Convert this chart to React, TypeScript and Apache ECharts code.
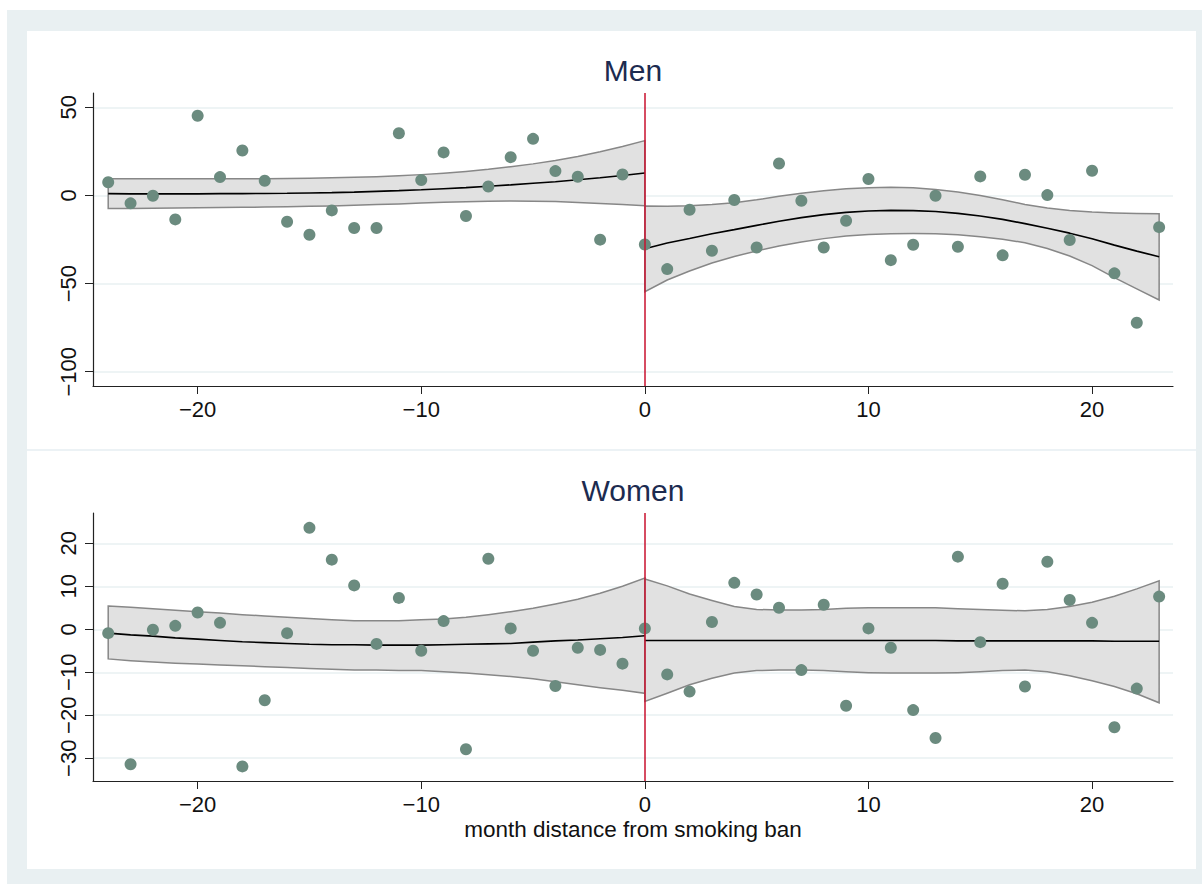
import React, { useEffect, useRef } from 'react';
import * as echarts from 'echarts';

const months = [-24, -23, -22, -21, -20, -19, -18, -17, -16, -15, -14, -13, -12, -11, -10, -9, -8, -7, -6, -5, -4, -3, -2, -1, 0, 1, 2, 3, 4, 5, 6, 7, 8, 9, 10, 11, 12, 13, 14, 15, 16, 17, 18, 19, 20, 21, 22, 23];

const menValues = [7.5, -4.5, -0.2, -13.6, 45.2, 10.4, 25.5, 8.3, -14.9, -22.3, -8.5, -18.5, -18.5, 35.3, 8.7, 24.4, -11.7, 5.1, 21.7, 32.1, 13.8, 10.6, -25.1, 11.9, -27.8, -41.8, -8.1, -31.4, -2.6, -29.5, 18.1, -3.0, -29.5, -14.4, 9.3, -36.7, -28.0, -0.2, -29.1, 10.8, -34.0, 11.7, 0.2, -25.3, 14.0, -44.2, -72.2, -18.0];

const womenValues = [-0.9, -31.4, -0.1, 0.8, 3.9, 1.5, -31.9, -16.5, -0.9, 23.6, 16.2, 10.2, -3.4, 7.3, -5.0, 1.9, -27.9, 16.4, 0.2, -5.0, -13.2, -4.3, -4.8, -8.0, 0.2, -10.5, -14.5, 1.7, 10.8, 8.1, 5.0, -9.5, 5.7, -17.8, 0.2, -4.3, -18.8, -25.3, 16.9, -3.0, 10.6, -13.3, 15.7, 6.8, 1.5, -22.8, -13.8, 7.6];

// fitted values and confidence bands, before (months -24..0) and after (0..23) the ban
const menFitBefore = [1.0, 0.9, 0.9, 0.9, 0.9, 1.0, 1.0, 1.1, 1.2, 1.4, 1.6, 1.9, 2.3, 2.7, 3.2, 3.8, 4.4, 5.2, 6.0, 6.9, 7.8, 8.9, 10.0, 11.3, 12.7];
const menHiBefore = [9.4, 9.4, 9.4, 9.4, 9.4, 9.4, 9.5, 9.5, 9.6, 9.8, 10.0, 10.3, 10.6, 11.1, 11.8, 12.6, 13.6, 14.8, 16.3, 17.9, 19.8, 22.1, 24.8, 27.8, 31.1];
const menLoBefore = [-7.4, -7.4, -7.3, -7.2, -7.0, -6.9, -6.7, -6.6, -6.4, -6.2, -6.0, -5.6, -5.2, -4.8, -4.3, -3.9, -3.6, -3.3, -3.2, -3.3, -3.5, -4.0, -4.6, -5.2, -5.8];

const menFitAfter = [-30.3, -27.0, -24.4, -21.7, -19.4, -17.0, -14.6, -12.6, -10.9, -9.6, -8.8, -8.5, -8.6, -9.1, -10.2, -11.7, -13.6, -16.0, -18.6, -21.4, -24.6, -28.2, -31.6, -34.8];
const menHiAfter = [-6.0, -6.1, -5.9, -5.2, -4.2, -2.5, -0.5, 1.2, 2.7, 3.8, 4.4, 4.6, 4.3, 3.4, 1.9, 0.0, -2.5, -5.1, -7.1, -8.5, -9.4, -9.9, -10.2, -10.4];
const menLoAfter = [-54.6, -48.0, -42.9, -38.3, -34.6, -31.5, -28.7, -26.4, -24.5, -23.0, -22.1, -21.7, -21.6, -21.7, -22.3, -23.4, -24.8, -26.9, -30.1, -34.4, -39.8, -46.6, -53.0, -59.3];

const womenFitBefore = [-0.9, -1.3, -1.6, -2.0, -2.3, -2.6, -2.9, -3.1, -3.3, -3.5, -3.6, -3.6, -3.7, -3.7, -3.7, -3.6, -3.5, -3.4, -3.3, -3.0, -2.7, -2.5, -2.2, -1.9, -1.5];
const womenHiBefore = [5.4, 5.1, 4.8, 4.4, 4.1, 3.8, 3.4, 3.1, 2.8, 2.5, 2.2, 2.0, 2.0, 2.0, 2.2, 2.4, 2.8, 3.4, 4.1, 4.9, 5.9, 7.0, 8.4, 10.0, 11.9];
const womenLoBefore = [-6.9, -7.3, -7.6, -7.9, -8.1, -8.3, -8.5, -8.7, -8.9, -9.1, -9.3, -9.5, -9.5, -9.6, -9.6, -9.9, -10.2, -10.6, -11.0, -11.5, -12.2, -12.9, -13.6, -14.2, -14.9];

const womenFitAfter = [-2.6, -2.6, -2.6, -2.6, -2.6, -2.6, -2.6, -2.6, -2.6, -2.6, -2.6, -2.6, -2.6, -2.6, -2.7, -2.7, -2.7, -2.7, -2.7, -2.7, -2.7, -2.8, -2.8, -2.8];
const womenHiAfter = [11.7, 10.1, 8.2, 6.7, 5.3, 4.6, 4.5, 4.5, 4.6, 4.9, 5.0, 5.0, 5.0, 5.0, 4.8, 4.6, 4.4, 4.3, 4.6, 5.3, 6.3, 7.7, 9.4, 11.3];
const womenLoAfter = [-16.8, -14.9, -12.9, -11.4, -10.2, -9.6, -9.5, -9.5, -9.6, -9.9, -10.1, -10.2, -10.2, -10.2, -10.1, -9.9, -9.6, -9.5, -9.9, -10.8, -12.0, -13.3, -15.0, -17.1];

const xTicks = [-20, -10, 0, 10, 20];
const menYTicks = [-100, -50, 0, 50];
const womenYTicks = [-30, -20, -10, 0, 10, 20];
const panelTitles = ['Men', 'Women'];
const xTitle = 'month distance from smoking ban';

const FONT = '"Liberation Sans", Arial, Helvetica, sans-serif';
const fmt = (v: number) => (v < 0 ? '\u2212' + Math.abs(v) : String(v));

const monthsBefore = months.filter((m) => m <= 0);
const monthsAfter = months.filter((m) => m >= 0);

function band(xs: number[], lo: number[], hi: number[], idx: number) {
  return {
    type: 'custom',
    xAxisIndex: idx,
    yAxisIndex: idx,
    z: 2,
    silent: true,
    data: [[xs[0], lo[0]]],
    renderItem: (_p: any, api: any) => {
      const pts: number[][] = [];
      for (let i = 0; i < xs.length; i++) pts.push(api.coord([xs[i], hi[i]]));
      for (let i = xs.length - 1; i >= 0; i--) pts.push(api.coord([xs[i], lo[i]]));
      return {
        type: 'polygon',
        shape: { points: pts },
        style: { fill: '#e1e1e1', stroke: '#878787', lineWidth: 1.5 },
      };
    },
  };
}

function fitLine(xs: number[], ys: number[], idx: number) {
  return {
    type: 'line',
    xAxisIndex: idx,
    yAxisIndex: idx,
    z: 3,
    silent: true,
    symbol: 'none',
    data: xs.map((x, i) => [x, ys[i]]),
    lineStyle: { color: '#000', width: 1.6 },
  };
}

function scatter(vals: number[], idx: number) {
  return {
    type: 'scatter',
    xAxisIndex: idx,
    yAxisIndex: idx,
    z: 4,
    symbolSize: 12,
    data: months.map((m, i) => [m, vals[i]]),
    itemStyle: { color: '#6b8b7f', opacity: 1 },
  };
}

function cutoff(idx: number) {
  return {
    type: 'line',
    xAxisIndex: idx,
    yAxisIndex: idx,
    z: 1,
    data: [],
    markLine: {
      silent: true,
      symbol: 'none',
      label: { show: false },
      lineStyle: { color: '#c8102e', width: 1.5, type: 'solid' },
      data: [{ xAxis: 0 }],
    },
  };
}

function xAxis(idx: number, withName: boolean) {
  return {
    type: 'value',
    gridIndex: idx,
    min: -24.68,
    max: 23.62,
    axisLine: { show: true, onZero: false, lineStyle: { color: '#222', width: 1.2 } },
    axisTick: { show: true, length: 8, customValues: xTicks, lineStyle: { color: '#222', width: 1 } },
    axisLabel: { customValues: xTicks, formatter: fmt, fontSize: 22, color: '#111', fontFamily: FONT, margin: 12 },
    splitLine: { show: false },
    name: withName ? xTitle : '',
    nameLocation: 'middle',
    nameGap: 37,
    nameTextStyle: { fontSize: 22.5, color: '#111', fontFamily: FONT },
  };
}

function yAxis(idx: number, min: number, max: number, ticks: number[]) {
  return {
    type: 'value',
    gridIndex: idx,
    min,
    max,
    axisLine: { show: true, onZero: false, lineStyle: { color: '#222', width: 1.2 } },
    axisTick: { show: true, length: 8, customValues: ticks, lineStyle: { color: '#222', width: 1 } },
    axisLabel: { customValues: ticks, formatter: fmt, fontSize: 22, color: '#111', fontFamily: FONT, rotate: 90, margin: 14 },
    splitLine: { show: true, lineStyle: { color: '#e8f0f2', width: 1.5 } },
  };
}

export default function App() {
  const ref = useRef<HTMLDivElement>(null);
  useEffect(() => {
    if (!ref.current) return;
    const chart = echarts.init(ref.current, undefined, { renderer: 'svg' });
    chart.setOption({
      animation: false,
      backgroundColor: '#ffffff',
      graphic: [
        { type: 'rect', z: -100, silent: true, shape: { x: 7, y: 10, width: 1195, height: 874 }, style: { fill: '#e9f0f2' } },
        { type: 'rect', z: -99, silent: true, shape: { x: 27, y: 31, width: 1169, height: 838 }, style: { fill: '#ffffff' } },
        { type: 'line', z: -98, silent: true, shape: { x1: 27, y1: 450, x2: 1196, y2: 450 }, style: { stroke: '#e6eef2', lineWidth: 1.5 } },
        { type: 'text', x: 633, y: 70, silent: true, style: { text: panelTitles[0], textAlign: 'center', textVerticalAlign: 'middle', fontSize: 30, fontFamily: FONT, fill: '#1c2b50' } },
        { type: 'text', x: 633, y: 490, silent: true, style: { text: panelTitles[1], textAlign: 'center', textVerticalAlign: 'middle', fontSize: 30, fontFamily: FONT, fill: '#1c2b50' } },
      ],
      grid: [
        { left: 93, right: 29, top: 93, height: 293 },
        { left: 93, right: 29, top: 513, height: 268 },
      ],
      xAxis: [xAxis(0, false), xAxis(1, true)],
      yAxis: [yAxis(0, -108.1, 58.1, menYTicks), yAxis(1, -35.3, 27.05, womenYTicks)],
      series: [
        cutoff(0),
        band(monthsBefore, menLoBefore, menHiBefore, 0),
        band(monthsAfter, menLoAfter, menHiAfter, 0),
        fitLine(monthsBefore, menFitBefore, 0),
        fitLine(monthsAfter, menFitAfter, 0),
        scatter(menValues, 0),
        cutoff(1),
        band(monthsBefore, womenLoBefore, womenHiBefore, 1),
        band(monthsAfter, womenLoAfter, womenHiAfter, 1),
        fitLine(monthsBefore, womenFitBefore, 1),
        fitLine(monthsAfter, womenFitAfter, 1),
        scatter(womenValues, 1),
      ],
    });
    return () => chart.dispose();
  }, []);
  return <div ref={ref} style={{ position: 'absolute', left: 0, top: 0, width: 1202, height: 884 }} />;
}
